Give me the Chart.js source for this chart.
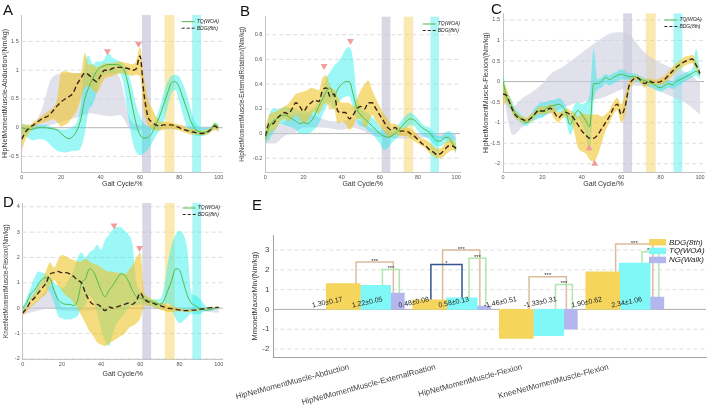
<!DOCTYPE html>
<html>
<head>
<meta charset="utf-8">
<script src="https://cdn.jsdelivr.net/npm/chart.js@4.4.0/dist/chart.umd.min.js"></script>
<style>
  body { margin: 0; background: #fff; }
  #page { position: relative; width: 708px; height: 406px; overflow: hidden; font-family: "Liberation Sans", Arial, sans-serif; }
  canvas { position: absolute; }
  .tag { position: absolute; font-size: 15px; color: #111; line-height: 1; }
</style>
</head>
<body>
<div id="page">
  <canvas id="chartA" width="236" height="200" style="left:0;top:0"></canvas>
  <canvas id="chartB" width="236" height="200" style="left:236px;top:0"></canvas>
  <canvas id="chartC" width="236" height="200" style="left:472px;top:0"></canvas>
  <canvas id="chartD" width="236" height="200" style="left:0;top:190px"></canvas>
  <canvas id="chartE" width="472" height="206" style="left:236px;top:200px"></canvas>
  <div class="tag" style="left:3px;top:2px">A</div>
  <div class="tag" style="left:240px;top:3px">B</div>
  <div class="tag" style="left:491px;top:1px">C</div>
  <div class="tag" style="left:3px;top:194px">D</div>
  <div class="tag" style="left:252px;top:197px">E</div>
</div>
<script>
// gait cycle sample points (%)
const cycle = [0,2,4,6,8,10,12,14,16,18,20,22,24,26,28,30,32,34,36,38,40,42,44,46,48,50,
               52,54,56,58,60,62,64,66,68,70,72,74,76,78,80,82,84,86,88,90,92,94,96,98,100];
const cycleNG = [0,5,10,15,20,25,30,35,40,45,50,55,60,65,70,75,80,85,90,95,100];
const cycleTicks = [0, 20, 40, 60, 80, 100];
// shaded phase windows (% gait cycle): NG, BDG, TQ
const phaseStart = [61, 72.5, 86.5];
const phaseEnd = [65.5, 77.5, 91];

// ---- A: hip abduction
const aTq    = [0,-0.02,-0.03,-0.02,0,0,0,-0.01,-0.02,-0.04,-0.1,-0.16,-0.19,-0.15,-0.05,0.15,0.5,0.7,0.85,0.98,1.05,1.08,1.1,1.1,1.1,1.08,1,0.75,0.4,0.08,-0.12,-0.18,-0.17,-0.1,0.05,0.2,0.4,0.6,0.78,0.8,0.7,0.5,0.3,0.1,-0.02,-0.07,-0.08,-0.07,-0.03,0.06,0];
const aTqHi  = [0.08,0.05,0.05,0.05,0.05,0.05,0.05,0.03,0,-0.02,-0.03,-0.03,-0.02,0.02,0.1,0.4,1.1,1.25,1.1,1.15,1.15,1.2,1.3,1.22,1.18,1.15,1.1,0.95,0.7,0.4,0.2,0.08,0.02,0.05,0.15,0.35,0.6,0.8,0.9,0.92,0.88,0.75,0.55,0.3,0.1,0.02,0,0,0.02,0.1,0.05];
const aTqLo  = [-0.1,-0.15,-0.2,-0.22,-0.2,-0.2,-0.22,-0.28,-0.35,-0.4,-0.42,-0.43,-0.42,-0.4,-0.4,-0.35,-0.1,0.3,0.4,0.6,0.85,0.92,0.95,0.95,0.95,0.93,0.7,0.2,-0.2,-0.42,-0.48,-0.45,-0.38,-0.28,-0.15,-0.05,0.1,0.35,0.6,0.65,0.45,0.2,0,-0.1,-0.13,-0.15,-0.15,-0.12,-0.08,0,-0.05];
const aBdg   = [-0.2,-0.07,0,0.05,0.1,0.15,0.18,0.22,0.3,0.38,0.45,0.5,0.54,0.6,0.75,0.86,0.95,0.92,0.85,0.8,0.9,1,1,1.03,1.05,1.05,1.04,1.03,1,1.02,1.25,0.6,0.2,0.1,0.05,0.03,0.05,0.05,0.05,0.03,0,-0.03,-0.05,-0.07,-0.08,-0.1,-0.1,-0.08,-0.03,0.03,-0.03];
const aBdgHi = [0.05,0.05,0.05,0.1,0.15,0.2,0.25,0.3,0.35,0.5,0.97,0.98,0.97,0.95,0.95,0.95,1.3,1.1,1.1,1.05,1.08,1.12,1.12,1.12,1.14,1.15,1.13,1.12,1.1,1.15,1.4,0.9,0.5,0.35,0.2,0.12,0.1,0.1,0.08,0.07,0.05,0.03,0,-0.02,-0.03,-0.05,-0.05,-0.03,0,0.08,0.03];
const aBdgLo = [-0.4,-0.2,-0.08,0,0.05,0.08,0.1,0.12,0.15,0.1,0.02,0.05,0.1,0.2,0.3,0.5,0.7,0.72,0.65,0.6,0.72,0.85,0.88,0.9,0.92,0.95,0.93,0.92,0.9,0.92,0.9,0.3,0.05,-0.02,-0.05,-0.05,-0.03,-0.02,-0.02,-0.03,-0.05,-0.08,-0.1,-0.12,-0.12,-0.13,-0.13,-0.12,-0.08,-0.03,-0.08];
const aNgHi  = [0,0.02,0.3,0.85,0.94,0.95,0.95,0.95,1,1,0.85,0.15,0.05,0.05,0.05,0.05,0.05,0.03,0.02,0.02,0.02];
const aNgLo  = [-0.05,-0.05,0,0.05,0.1,0.15,0.2,0.25,0.22,0.2,0.22,-0.02,-0.05,-0.05,-0.03,-0.03,-0.03,-0.05,-0.05,-0.05,-0.05];
const aPeakX = [43.5, 59.3];
const aPeakY = [1.33, 1.46];
const aTicks = [-0.5, 0, 0.5, 1, 1.5];

// ---- B: hip external rotation
const bTq    = [-0.05,0.05,0.1,0.12,0.14,0.15,0.14,0.12,0.1,0.08,0.09,0.08,0.1,0.15,0.22,0.28,0.34,0.37,0.3,0.36,0.4,0.42,0.42,0.32,0.2,0.15,0.12,0.09,0.06,0.03,0,-0.02,-0.03,-0.02,0,0.03,0.07,0.1,0.12,0.11,0.08,0.05,0.03,0.01,-0.03,-0.06,-0.06,-0.03,-0.03,-0.08,-0.13];
const bTqHi  = [0,0.15,0.2,0.2,0.2,0.22,0.21,0.2,0.19,0.18,0.18,0.18,0.19,0.22,0.26,0.35,0.45,0.5,0.55,0.58,0.62,0.68,0.7,0.6,0.3,0.22,0.18,0.16,0.13,0.1,0.06,0.03,0.02,0.03,0.05,0.08,0.12,0.15,0.17,0.15,0.12,0.08,0.06,0.05,0.01,-0.02,-0.02,0,0.02,0,-0.05];
const bTqLo  = [-0.08,-0.05,0,0.05,0.08,0.07,0.06,0.05,0.03,0,0,0,0.01,0.04,0.08,0.15,0.22,0.25,0.2,0.25,0.28,0.3,0.3,0.2,0.1,0.06,0.05,0.02,0,-0.04,-0.08,-0.13,-0.12,-0.08,-0.05,-0.02,0.02,0.05,0.07,0.06,0.02,-0.01,-0.03,-0.05,-0.08,-0.1,-0.1,-0.08,-0.07,-0.1,-0.17];
const bBdg   = [-0.02,0.08,0.08,0.12,0.15,0.17,0.16,0.2,0.25,0.22,0.18,0.22,0.25,0.27,0.26,0.35,0.37,0.3,0.32,0.18,0.17,0.17,0.12,0.15,0.2,0.22,0.2,0.25,0.25,0.2,0.15,0.1,0.05,0.03,0.05,0.02,0.02,0.02,0,-0.02,-0.05,-0.08,-0.1,-0.13,-0.15,-0.17,-0.16,-0.13,-0.1,-0.1,-0.12];
const bBdgHi = [0.05,0.15,0.17,0.18,0.2,0.22,0.24,0.28,0.32,0.33,0.34,0.35,0.37,0.36,0.35,0.45,0.47,0.38,0.36,0.3,0.25,0.25,0.25,0.22,0.28,0.35,0.4,0.43,0.35,0.28,0.22,0.16,0.12,0.08,0.08,0.06,0.05,0.05,0.04,0.02,-0.02,-0.04,-0.05,-0.07,-0.1,-0.12,-0.12,-0.08,-0.05,-0.05,-0.08];
const bBdgLo = [-0.08,0,0.02,0.05,0.1,0.12,0.1,0.12,0.15,0.12,0.08,0.1,0.15,0.18,0.16,0.22,0.25,0.2,0.2,0.08,0.1,0.08,0.03,0.06,0.12,0.12,0.05,0.08,0.15,0.1,0.06,0.02,-0.02,-0.03,0,-0.02,-0.02,-0.02,-0.04,-0.06,-0.08,-0.1,-0.12,-0.16,-0.18,-0.2,-0.2,-0.18,-0.15,-0.13,-0.15];
const bNgHi  = [0,0.05,0.1,0.15,0.16,0.15,0.12,0.1,0.1,0.12,0.1,0.05,0.02,0,0,0,0,0,0,0.01,0];
const bNgLo  = [-0.08,-0.08,-0.02,0,0.05,0.05,0.05,0.04,0.03,0.05,0.03,-0.01,-0.03,-0.04,-0.04,-0.04,-0.04,-0.03,-0.04,-0.05,-0.05];
const bPeakX = [30.8, 44.6];
const bPeakY = [0.546, 0.75];
const bTicks = [-0.2, 0, 0.2, 0.4, 0.6, 0.8];

// ---- C: hip flexion
const cTq    = [0,-0.4,-0.55,-0.75,-0.85,-0.95,-1,-0.9,-0.8,-0.72,-0.72,-0.65,-0.6,-0.58,-0.55,-0.6,-0.75,-1.05,-0.85,-0.7,-0.8,-0.95,-1.1,-0.05,-0.05,0,0.1,0.05,0.1,0.15,0.18,0.15,0.12,0.12,0.1,0.05,0.02,-0.02,-0.05,-0.12,-0.15,-0.1,-0.05,-0.08,0,0.05,0.1,0.15,0.2,0.25,0.15];
const cTqHi  = [0.2,-0.25,-0.4,-0.65,-0.75,-0.85,-0.9,-0.8,-0.65,-0.55,-0.5,-0.5,-0.45,-0.45,-0.4,-0.45,-0.6,-0.8,-0.6,-0.5,-0.55,-0.5,-0.3,0.8,0.05,0.1,0.18,0.15,0.2,0.25,0.3,0.25,0.2,0.2,0.18,0.12,0.08,0.05,0,-0.05,-0.05,0,0.05,0,0.1,0.15,0.2,0.25,0.3,0.8,0.3];
const cTqLo  = [-0.3,-0.55,-0.7,-0.88,-0.95,-1.05,-1.08,-1,-0.95,-0.9,-0.88,-0.8,-0.75,-0.72,-0.75,-0.8,-0.95,-1.3,-1.1,-0.9,-1.05,-1.3,-1.7,-0.5,-0.2,-0.15,-0.05,-0.1,-0.05,0,0.05,0.05,0.05,0.03,0,-0.05,-0.08,-0.12,-0.15,-0.22,-0.25,-0.2,-0.15,-0.18,-0.12,-0.08,0,0.05,0.1,0.15,0.05];
const cBdg   = [-0.3,-0.35,-0.6,-0.8,-0.88,-0.92,-0.95,-0.9,-0.8,-0.7,-0.72,-0.7,-0.65,-0.75,-0.88,-0.8,-0.75,-0.8,-0.9,-1.05,-1.2,-1.3,-1.38,-1.38,-1.3,-1.15,-1,-0.85,-0.65,-0.55,-0.8,-0.6,-0.1,0.05,0.1,0.02,-0.05,0.02,-0.02,-0.02,0,0.05,0.15,0.25,0.35,0.42,0.48,0.52,0.55,0.4,0.2];
const cBdgHi = [0.05,-0.2,-0.45,-0.7,-0.8,-0.85,-0.88,-0.8,-0.72,-0.62,-0.6,-0.6,-0.55,-0.6,-0.75,-0.72,-0.65,-0.7,-0.75,-0.85,-0.75,-0.8,-0.8,-0.8,-0.8,-0.85,-0.8,-0.7,-0.5,-0.4,-0.55,-0.3,0,0.12,0.15,0.1,0.05,0.08,0.05,0.05,0.1,0.15,0.25,0.35,0.45,0.52,0.6,0.62,0.65,0.5,0.25];
const cBdgLo = [-0.6,-0.5,-0.7,-0.88,-0.95,-1,-1.02,-0.98,-0.88,-0.78,-0.8,-0.78,-0.75,-0.9,-1,-0.9,-0.85,-0.95,-1.2,-1.6,-1.7,-1.75,-1.9,-1.95,-1.8,-1.5,-1.2,-1,-0.8,-0.7,-1,-0.8,-0.25,-0.05,0.05,-0.05,-0.15,-0.08,-0.08,-0.08,-0.08,-0.05,0.05,0.15,0.25,0.32,0.38,0.42,0.45,0.3,0.15];
const cNgHi  = [0,-0.6,-0.4,-0.25,-0.05,0.22,0.35,0.52,0.7,0.88,1.05,1.18,1.2,1.1,0.8,0.6,0.45,0.35,0.28,0.18,-0.05];
const cNgLo  = [-0.3,-1.3,-1.1,-0.95,-0.85,-0.75,-0.65,-0.55,-0.5,-0.45,-0.4,-0.3,-0.2,-0.1,-0.1,-0.15,-0.25,-0.35,-0.45,-0.6,-0.8];
const cPeakX = [43.7, 46.5];
const cPeakY = [-1.62, -2.0];
const cTicks = [-2, -1.5, -1, -0.5, 0, 0.5, 1, 1.5];

// ---- D: knee flexion
const dTq    = [0,0.2,0.55,0.7,0.95,1.15,1.2,1.15,0.7,0.35,0.2,0.15,0.15,0.1,0.3,1,1.15,1.55,1.45,1.1,0.7,0.45,0.7,0.9,1.15,1.35,1.3,1.05,0.7,0.45,0.4,0.35,0.3,0.25,0.2,0.15,0.3,0.7,1.1,1.55,1.5,1,0.5,0.2,0.1,0,-0.05,-0.08,-0.05,0,0.02];
const dTqHi  = [0.05,0.4,0.8,1.2,1.45,1.4,1.35,1.25,1,0.9,0.8,0.9,1.2,1.5,2,2.2,2,2.2,2.3,2.5,2.3,2.7,2.9,3.1,3.2,3.2,3.05,2.9,2.5,1,0.7,0.5,0.4,0.35,0.35,0.35,0.8,1.8,2.5,2.9,3.05,2.9,2.3,0.6,0.5,0.4,0.2,0.05,0,0,0.02];
const dTqLo  = [-0.1,0,0.3,0.4,0.6,0.95,0.8,0.6,0.2,-0.3,-0.4,-0.45,-0.45,-0.4,-0.3,0,0.1,0.5,0.3,-0.2,-0.8,-1.3,-1.5,-1,-0.6,-0.4,-0.2,0,0.1,0.1,0.15,0.15,0.1,0.05,0,0,0.05,0.2,0,-0.4,-0.6,-0.5,-0.35,-0.2,-0.25,-0.25,-0.15,-0.1,-0.1,-0.05,0];
const dBdg   = [-0.2,0,0.25,0.4,0.6,0.8,1,1.35,1.4,1.45,1.4,1.4,1.35,1.25,1.1,1,0.6,0.3,0.15,0.15,0.05,-0.1,0.05,0,0.05,0.1,0.15,0.2,0.15,0.3,0.6,0.35,0.25,0.2,0.15,0.1,0.05,0,-0.02,-0.05,-0.08,-0.1,-0.1,-0.08,-0.08,-0.05,-0.03,0,0.02,0.03,0.03];
const dBdgHi = [-0.1,0.1,0.4,0.6,0.85,1.1,1.5,1.8,1.6,1.9,2.1,2.05,1.95,1.9,1.85,1.85,1.95,1.85,1.75,1.7,1.6,1.5,1.45,1.45,1.4,1.4,1.35,1.5,1.7,2,2.2,0.6,0.45,0.35,0.3,0.2,0.2,0.12,0.08,0.05,0,-0.03,-0.05,-0.05,-0.05,-0.03,0,0.02,0.03,0.04,0.05];
const dBdgLo = [-0.3,-0.15,0.05,0.15,0.3,0.45,0.55,0.9,1.1,0.9,0.7,0.5,0.4,0.2,0,-0.3,-0.6,-0.9,-1.1,-1.35,-1.45,-1.5,-1.4,-1.3,-1.2,-1.1,-1,-0.8,-0.7,-0.6,-0.4,0.1,0.1,0.05,0,-0.05,-0.1,-0.15,-0.15,-0.12,-0.12,-0.13,-0.15,-0.14,-0.12,-0.1,-0.05,-0.03,0,0,0];
const dNgHi  = [0,0.15,0.55,0.9,0.05,0,0,0,0,0,0,0,0,0,0,0,0,0,0,0,0];
const dNgLo  = [-0.25,-0.15,-0.05,0,-0.08,-0.1,-0.1,-0.08,-0.05,-0.05,-0.05,-0.03,0,-0.03,-0.05,-0.07,-0.08,-0.1,-0.12,-0.15,-0.18];
const dPeakX = [46.6, 59.6];
const dPeakY = [3.26, 2.37];
const dTicks = [-2, -1, 0, 1, 2, 3, 4];

// ---- E: peak moments
const categories = ['HipNetMomentMuscle-Abduction', 'HipNetMomentMuscle-ExternalRoation',
                    'HipNetMomentMuscle-Flexion', 'KneeNetMomentMuscle-Flexion'];
const groupX = [1, 2, 3, 4];
const bdgPeak = [1.30, 0.48, -1.46, 1.90];
const bdgSd = [0.17, 0.08, 0.51, 0.62];
const tqPeak = [1.22, 0.58, -1.33, 2.34];
const tqSd = [0.05, 0.13, 0.31, 1.06];
const ngPeak = [0.82, 0.17, -1.0, 0.62];
const eTicks = [-2, -1, 0, 1, 2, 3];
// significance brackets
const sigGroup  = [1, 1, 2, 2, 2, 3, 3, 4, 4];
const sigKind   = ['tan', 'green', 'tan', 'blue', 'green', 'tan', 'green', 'tan', 'green'];
const sigHeight = [2.4, 2.02, 3.0, 2.27, 2.58, 1.65, 1.26, 3.31, 2.91];
const sigStars  = ['***', '***', '***', '*', '***', '***', '***', '***', '***'];

Chart.defaults.font.family = '"Liberation Sans", Arial, Helvetica, sans-serif';
Chart.defaults.animation = false;

const GREEN = '#4dbb48', DARK = '#3d2019', PINK = '#f29c9c', AXIS = '#b4b4b4';
const FILL_NG = 'rgba(205,205,224,0.6)';
const FILL_TQ = 'rgba(20,236,236,0.42)';
const FILL_BDG = 'rgba(238,196,40,0.6)';
const PHASE_COLORS = ['rgba(190,188,210,0.6)', 'rgba(246,214,100,0.5)', 'rgba(70,238,235,0.45)'];

const pts = (xs, ys) => ys.map((y, i) => ({x: xs[i], y}));

function dashedGrid(ctx, area, yScale, zeroColor) {
  yScale.ticks.forEach(t => {
    const py = yScale.getPixelForValue(t.value);
    ctx.beginPath();
    ctx.lineWidth = 0.8;
    ctx.setLineDash(t.value === 0 ? [] : [4, 3]);
    ctx.strokeStyle = t.value === 0 ? zeroColor : '#d4d4d4';
    ctx.moveTo(area.left, py);
    ctx.lineTo(area.right, py);
    ctx.stroke();
  });
  ctx.setLineDash([]);
}

const gaitDecor = {
  id: 'gaitDecor',
  beforeDatasetsDraw(chart) {
    const {ctx, chartArea: a, scales: {x, y}} = chart;
    ctx.save();
    dashedGrid(ctx, a, y, '#a0a0a0');
    phaseStart.forEach((s, i) => {
      const x0 = x.getPixelForValue(s), x1 = x.getPixelForValue(phaseEnd[i]);
      ctx.fillStyle = PHASE_COLORS[i];
      ctx.fillRect(x0, a.top, x1 - x0, a.bottom - a.top);
    });
    ctx.restore();
  },
  afterDatasetsDraw(chart, args, o) {
    const {ctx, chartArea: a} = chart;
    const items = [['TQ(WOA)', GREEN, []], ['BDG(8th)', DARK, [3, 2]]];
    ctx.save();
    ctx.font = 'italic 5px "Liberation Sans", Arial, sans-serif';
    ctx.textBaseline = 'middle';
    items.forEach(([text, color, dash], i) => {
      const x0 = a.right - o.dx, yy = a.top + o.dy + i * 6.5;
      ctx.beginPath();
      ctx.strokeStyle = color;
      ctx.lineWidth = 1;
      ctx.setLineDash(dash);
      ctx.moveTo(x0, yy);
      ctx.lineTo(x0 + 13, yy);
      ctx.stroke();
      ctx.fillStyle = '#222';
      ctx.fillText(text, x0 + 15, yy);
    });
    ctx.restore();
  }
};

function bandLine(xs, ys, fill, color) {
  return {
    type: 'line', data: pts(xs, ys), borderColor: 'transparent', borderWidth: 0,
    pointRadius: 0, fill: fill, backgroundColor: color, cubicInterpolationMode: 'monotone'
  };
}

function gaitChart(id, p) {
  new Chart(document.getElementById(id), {
    type: 'line',
    data: {
      datasets: [
        {...bandLine(cycleNG, p.ngLo, false), order: 9},
        {...bandLine(cycleNG, p.ngHi, '-1', FILL_NG), order: 8},
        {...bandLine(cycle, p.tqLo, false), order: 7},
        {...bandLine(cycle, p.tqHi, '-1', FILL_TQ), order: 6},
        {...bandLine(cycle, p.bdgLo, false), order: 5},
        {...bandLine(cycle, p.bdgHi, '-1', FILL_BDG), order: 4},
        {label: 'TQ(WOA)', data: pts(cycle, p.tq), borderColor: GREEN, borderWidth: 1,
         pointRadius: 0, cubicInterpolationMode: 'monotone', order: 3},
        {label: 'BDG(8th)', data: pts(cycle, p.bdg), borderColor: DARK, borderWidth: 1.4,
         borderDash: [5, 3], pointRadius: 0, cubicInterpolationMode: 'monotone', order: 2},
        {data: pts(p.peakX, p.peakY), showLine: false, pointStyle: 'triangle', pointRadius: 4,
         pointRotation: p.peakRot, pointBackgroundColor: PINK, pointBorderWidth: 0, order: 1}
      ]
    },
    options: {
      responsive: false,
      events: [],
      layout: {padding: {left: 0, right: p.padRight, top: p.padTop, bottom: 12}},
      plugins: {legend: {display: false}, tooltip: {enabled: false}, gaitDecor: p.legend},
      scales: {
        x: {
          type: 'linear', min: 0, max: 102,
          grid: {display: false, drawTicks: false},
          border: {color: AXIS, width: 0.8},
          afterBuildTicks: s => { s.ticks = cycleTicks.map(v => ({value: v})); },
          afterFit: s => { s.height = p.xHeight; },
          ticks: {font: {size: 5.5}, color: '#555', padding: 2, maxRotation: 0, callback: v => String(v)},
          title: {display: true, text: 'Gait Cycle/%', font: {size: 7}, color: '#333', padding: 0}
        },
        y: {
          type: 'linear', min: p.yMin, max: p.yMax,
          grid: {display: false, drawTicks: false},
          border: {color: AXIS, width: 0.8},
          afterBuildTicks: s => { s.ticks = p.yTicks.map(v => ({value: v})); },
          afterFit: s => { s.width = p.yWidth; },
          ticks: {font: {size: 5.5}, color: '#555', padding: 3, callback: v => String(v)},
          title: {display: true, text: p.yTitle, font: {size: p.titleSize}, color: '#333',
                  padding: {top: p.titlePad, bottom: 0}}
        }
      }
    },
    plugins: [gaitDecor]
  });
}

gaitChart('chartA', {
  tq: aTq, tqHi: aTqHi, tqLo: aTqLo, bdg: aBdg, bdgHi: aBdgHi, bdgLo: aBdgLo, ngHi: aNgHi, ngLo: aNgLo,
  peakX: aPeakX, peakY: aPeakY, peakRot: 180, yMin: -0.77, yMax: 1.96, yTicks: aTicks,
  yTitle: 'HipNetMomentMuscle-Abduction/(Nm/kg)', titleSize: 7, titlePad: 0.8,
  yWidth: 21.7, xHeight: 16, padRight: 13.3, padTop: 15, legend: {dx: 41, dy: 6.7}
});
gaitChart('chartB', {
  tq: bTq, tqHi: bTqHi, tqLo: bTqLo, bdg: bBdg, bdgHi: bBdgHi, bdgLo: bBdgLo, ngHi: bNgHi, ngLo: bNgLo,
  peakX: bPeakX, peakY: bPeakY, peakRot: 180, yMin: -0.311, yMax: 0.946, yTicks: bTicks,
  yTitle: 'HipNetMomentMuscle-ExternalRotation/(Nm/kg)', titleSize: 6.3, titlePad: 2.9,
  yWidth: 29.3, xHeight: 16, padRight: 12, padTop: 16.7, legend: {dx: 37.3, dy: 7.3}
});
gaitChart('chartC', {
  tq: cTq, tqHi: cTqHi, tqLo: cTqLo, bdg: cBdg, bdgHi: cBdgHi, bdgLo: cBdgLo, ngHi: cNgHi, ngLo: cNgLo,
  peakX: cPeakX, peakY: cPeakY, peakRot: 0, yMin: -2.2, yMax: 1.66, yTicks: cTicks,
  yTitle: 'HipNetMomentMuscle-Flexion/(Nm/kg)', titleSize: 7, titlePad: 9.8,
  yWidth: 31, xHeight: 16, padRight: 3.7, padTop: 13.3, legend: {dx: 39.6, dy: 6.7}
});
gaitChart('chartD', {
  tq: dTq, tqHi: dTqHi, tqLo: dTqLo, bdg: dBdg, bdgHi: dBdgHi, bdgLo: dBdgLo, ngHi: dNgHi, ngLo: dNgLo,
  peakX: dPeakX, peakY: dPeakY, peakRot: 180, yMin: -2.02, yMax: 4.15, yTicks: dTicks,
  yTitle: 'KneeNetMomentMuscle-Flexion/(Nm/kg)', titleSize: 6.3, titlePad: 2.2,
  yWidth: 22.7, xHeight: 18.7, padRight: 13.3, padTop: 13, legend: {dx: 40, dy: 5}
});

// ---- panel E
const BAR_COLORS = ['#f5d55c', '#80f8f8', '#b4b6ee'];
const barOffset = [-0.193, 0.176, 0.432];     // position inside a group, axis units
const barWidth = [34, 31, 14];
const seriesPeak = [bdgPeak, tqPeak, ngPeak];
const sigStyle = {
  tan:   {color: '#dcbc9c', ends: [-0.045, 0.386], bars: [0, 2]},
  green: {color: '#aee6ae', ends: [0.26, 0.455],   bars: [1, 2]},
  blue:  {color: '#34558f', ends: [-0.18, 0.18],   bars: [0, 1]}
};

const peakDecor = {
  id: 'peakDecor',
  beforeDatasetsDraw(chart) {
    const {ctx, chartArea: a, scales: {x, y}} = chart;
    ctx.save();
    dashedGrid(ctx, a, y, '#9a9a9a');
    sigGroup.forEach((g, i) => {
      const st = sigStyle[sigKind[i]];
      const xl = x.getPixelForValue(g + st.ends[0]);
      const xr = x.getPixelForValue(g + st.ends[1]);
      const yt = y.getPixelForValue(sigHeight[i]);
      const yl = y.getPixelForValue(Math.max(seriesPeak[st.bars[0]][g - 1], 0));
      const yr = y.getPixelForValue(Math.max(seriesPeak[st.bars[1]][g - 1], 0));
      ctx.beginPath();
      ctx.strokeStyle = st.color;
      ctx.lineWidth = 1.5;
      ctx.moveTo(xl, yl);
      ctx.lineTo(xl, yt);
      ctx.lineTo(xr, yt);
      ctx.lineTo(xr, yr);
      ctx.stroke();
      ctx.fillStyle = '#333';
      ctx.font = '6px "Liberation Sans", Arial, sans-serif';
      ctx.textAlign = 'center';
      ctx.textBaseline = 'bottom';
      ctx.fillText(sigStars[i], (xl + xr) / 2, yt + 2);
    });
    ctx.restore();
  },
  afterDatasetsDraw(chart) {
    const {ctx, chartArea: a, scales: {x, y}} = chart;
    const y0 = y.getPixelForValue(0);
    ctx.save();
    ctx.font = '7px "Liberation Sans", Arial, sans-serif';
    ctx.fillStyle = '#222';
    ctx.textAlign = 'center';
    ctx.textBaseline = 'middle';
    groupX.forEach((g, i) => {
      [[bdgPeak[i], bdgSd[i], 0, -16], [tqPeak[i], tqSd[i], 1, -8]].forEach(([m, sd, k, dx]) => {
        const cx = x.getPixelForValue(g + barOffset[k]) + dx;
        ctx.save();
        ctx.translate(cx, y0 - 7);
        ctx.rotate(-12 * Math.PI / 180);
        ctx.fillText(m.toFixed(2) + '±' + sd.toFixed(2), 0, 0);
        ctx.restore();
      });
    });
    // legend
    const names = ['BDG(8th)', 'TQ(WOA)', 'NG(Walk)'];
    const rows = [4, 12.7, 21.7];
    ctx.font = 'italic 8px "Liberation Sans", Arial, sans-serif';
    ctx.textAlign = 'left';
    names.forEach((n, i) => {
      ctx.fillStyle = BAR_COLORS[i];
      ctx.fillRect(a.right - 57, a.top + rows[i], 17, 6.5);
      ctx.fillStyle = '#222';
      ctx.fillText(n, a.right - 37, a.top + rows[i] + 3.5);
    });
    ctx.restore();
  }
};

new Chart(document.getElementById('chartE'), {
  type: 'bar',
  data: {
    datasets: ['BDG(8th)', 'TQ(WOA)', 'NG(Walk)'].map((name, k) => ({
      label: name,
      data: pts(groupX.map(g => g + barOffset[k]), seriesPeak[k]),
      backgroundColor: BAR_COLORS[k],
      barThickness: barWidth[k],
      grouped: false,
      borderWidth: 0
    }))
  },
  options: {
    responsive: false,
    events: [],
    layout: {padding: {left: 0, right: 2, top: 35, bottom: 0}},
    plugins: {legend: {display: false}, tooltip: {enabled: false}},
    scales: {
      x: {
        type: 'linear', min: 0, max: 5, offset: false,
        grid: {display: false, drawTicks: false},
        border: {color: '#888', width: 0.8},
        afterBuildTicks: s => { s.ticks = groupX.map(v => ({value: v})); },
        afterFit: s => { s.height = 48.7; },
        ticks: {autoSkip: false, minRotation: 15, maxRotation: 15, font: {size: 8}, color: '#444',
                padding: 5, labelOffset: -11, callback: (v, i) => categories[i]}
      },
      y: {
        type: 'linear', min: -2.42, max: 3.76,
        grid: {display: false, drawTicks: false},
        border: {color: '#888', width: 0.8},
        afterBuildTicks: s => { s.ticks = eTicks.map(v => ({value: v})); },
        afterFit: s => { s.width = 30; },
        ticks: {font: {size: 8}, color: '#444', padding: 4, callback: v => String(v)},
        title: {display: true, text: 'MmonetMaxorMin/(Nm/kg)', font: {size: 7.5}, color: '#333',
                padding: {top: 6.5, bottom: 0}}
      }
    }
  },
  plugins: [peakDecor]
});
</script>
</body>
</html>
